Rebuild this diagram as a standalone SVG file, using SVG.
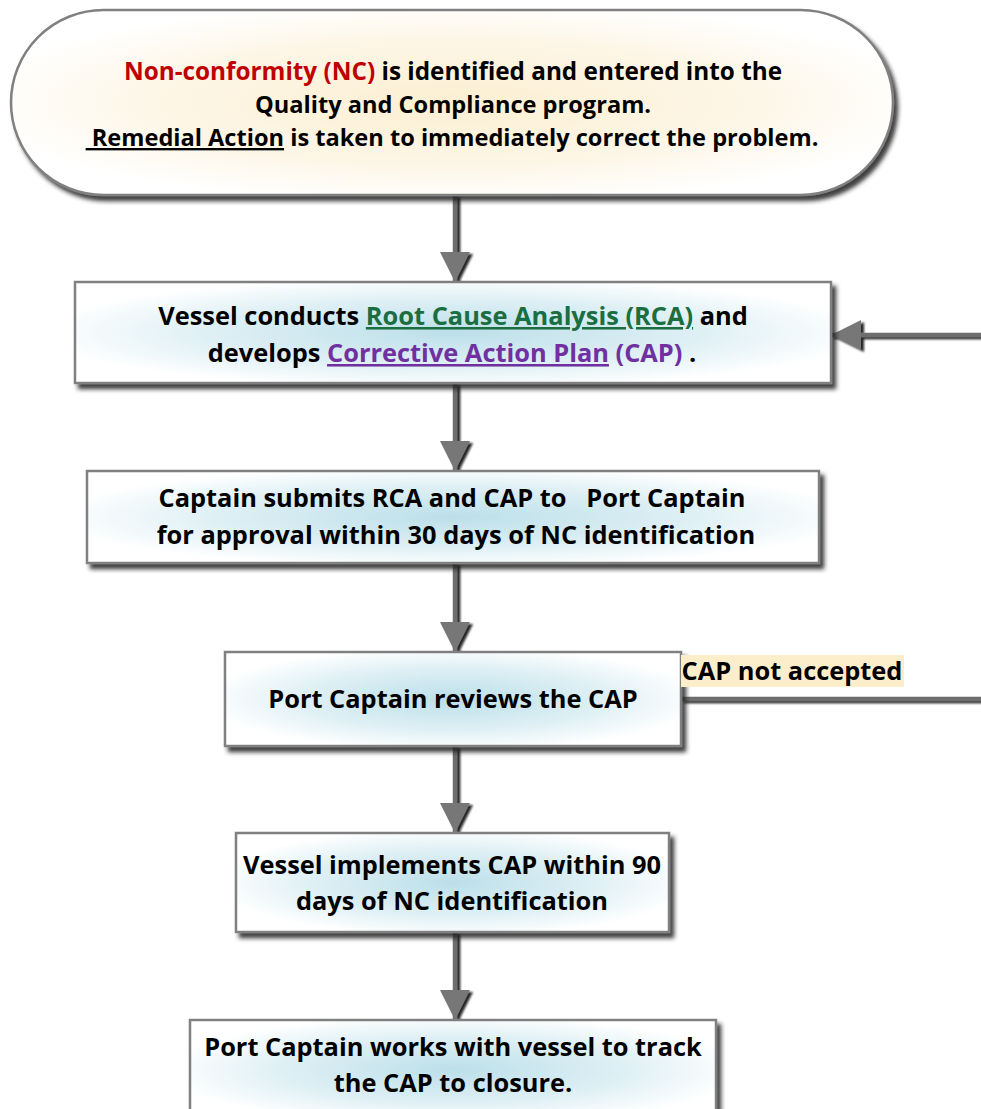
<svg xmlns="http://www.w3.org/2000/svg" width="981" height="1109" viewBox="0 0 981 1109">
<defs>
  <radialGradient id="gBlue" cx="50%" cy="50%" r="55%">
    <stop offset="0" stop-color="#bcdfe9"/>
    <stop offset="0.6" stop-color="#dff0f5"/>
    <stop offset="1" stop-color="#ffffff"/>
  </radialGradient>
  <radialGradient id="gCream" cx="50%" cy="50%" r="55%">
    <stop offset="0" stop-color="#fcefd2"/>
    <stop offset="0.6" stop-color="#fdf6e6"/>
    <stop offset="1" stop-color="#ffffff"/>
  </radialGradient>
  <filter id="shadow" x="-10%" y="-10%" width="130%" height="140%">
    <feDropShadow dx="4" dy="5" stdDeviation="2" flood-color="#222" flood-opacity="0.85"/>
  </filter>
  <filter id="lshadow" filterUnits="userSpaceOnUse" x="0" y="0" width="1100" height="1200">
    <feDropShadow dx="3" dy="2" stdDeviation="1" flood-color="#111" flood-opacity="0.9"/>
  </filter>
  <marker id="ah" markerUnits="userSpaceOnUse" markerWidth="32" markerHeight="32" refX="30" refY="15" orient="auto">
    <path d="M0,0 L30,15 L0,30 Z" fill="#777"/>
  </marker>
</defs>
<style>
  .box { fill: url(#gBlue); stroke: #808080; stroke-width: 2.5; filter: url(#shadow); }
  .t { font-family: "Open Sans", "Noto Sans", "DejaVu Sans", sans-serif; font-weight: bold; font-size: 25.4px; fill: #000; text-anchor: middle; }
  .top { font-size: 23.6px; }
  .top1 { font-size: 24.3px; }
  .conn { fill: none; stroke: #6e6e6e; stroke-width: 4.5; filter: url(#lshadow); }
  .red { fill: #c00000; }
  .green { fill: #1a6e3f; text-decoration: underline; }
  .purple { fill: #7030a0; }
  .ul { text-decoration: underline; }
</style>

<g id="connectors">
  <path class="conn" d="M455,195 V282" marker-end="url(#ah)"/>
  <path class="conn" d="M455,383 V471" marker-end="url(#ah)"/>
  <path class="conn" d="M455,563 V652" marker-end="url(#ah)"/>
  <path class="conn" d="M455,746 V833" marker-end="url(#ah)"/>
  <path class="conn" d="M455,932 V1020" marker-end="url(#ah)"/>
  <path class="conn" d="M681,699 H1010 V335 H831" marker-end="url(#ah)"/>
</g>

<g id="n1">
  <rect x="11" y="10" width="882" height="185" rx="92.5" ry="92.5" fill="url(#gCream)" stroke="#808080" stroke-width="2.5" filter="url(#shadow)"/>
  <text class="t top1" x="453" y="80"><tspan class="red">Non-conformity (NC)</tspan> is identified and entered into the</text>
  <text class="t top" x="453" y="113">Quality and Compliance program.</text>
  <text class="t top" x="452" y="146" xml:space="preserve"><tspan class="ul"> Remedial Action</tspan> is taken to immediately correct the problem.</text>
</g>

<g id="n2">
  <rect class="box" x="75" y="282" width="756" height="101"/>
  <text class="t" x="453" y="325">Vessel conducts <tspan class="green">Root Cause Analysis (RCA)</tspan> and</text>
  <text class="t" x="452" y="362">develops <tspan class="purple ul">Corrective Action Plan</tspan><tspan class="purple"> (CAP)</tspan> .</text>
</g>

<g id="n3">
  <rect class="box" x="87" y="471" width="732" height="92"/>
  <text class="t" x="452" y="507" xml:space="preserve">Captain submits RCA and CAP to   Port Captain</text>
  <text class="t" x="456" y="544">for approval within 30 days of NC identification</text>
</g>

<g id="n4">
  <rect class="box" x="225" y="652" width="456" height="94"/>
  <text class="t" x="453" y="708">Port Captain reviews the CAP</text>
</g>

<g id="label">
  <rect x="681" y="655" width="223" height="32" fill="#fdeecb"/>
  <text class="t" x="792" y="680">CAP not accepted</text>
</g>

<g id="n5">
  <rect class="box" x="236" y="833" width="433" height="99"/>
  <text class="t" x="452" y="874">Vessel implements CAP within 90</text>
  <text class="t" x="452" y="910">days of NC identification</text>
</g>

<g id="n6">
  <rect class="box" x="190" y="1020" width="526" height="100"/>
  <text class="t" x="453" y="1056">Port Captain works with vessel to track</text>
  <text class="t" x="453" y="1092">the CAP to closure.</text>
</g>
</svg>
